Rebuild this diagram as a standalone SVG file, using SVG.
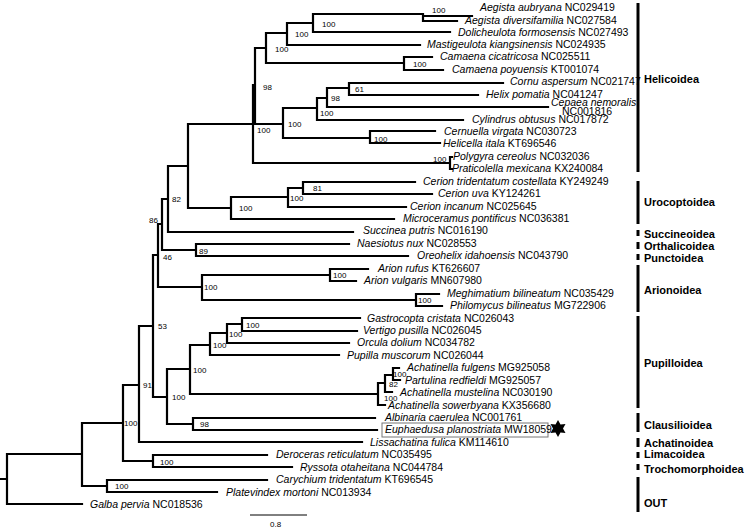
<svg xmlns="http://www.w3.org/2000/svg" width="745" height="529" viewBox="0 0 745 529">
<style>
.br{fill:none;stroke:#000;stroke-width:2.2;stroke-linecap:square}
.bar{stroke:#000;stroke-width:3}
.lf{font-family:"Liberation Sans",Arial,sans-serif;font-size:10.5px;fill:#000}
.sp{font-style:italic}
.bs{font-family:"Liberation Sans",Arial,sans-serif;font-size:8px;fill:#000}
.cl{font-family:"Liberation Sans",Arial,sans-serif;font-size:11px;font-weight:bold;fill:#000}
</style>
<rect width="745" height="529" fill="#fff"/>
<g id="connectors">
<path class="br" d="M0,479H7M7,454V504M7,504H82M7,454H82
M82,423V486M82,486H107M107,480V492M107,480H267M107,492H217
M82,423H123M123,385V461M123,461H153M153,455V467M153,455H267M153,467H292
M123,385H139M139,326V442M139,442H362
M139,326H153M153,255V397
M153,397H167M167,369V424M167,424H193M193,418V430M193,418H375M193,430H377
M167,369H190M190,345V394
M190,394H378M378,383V405M378,405H385M378,383H385M385,375V392M385,392H392M385,375H393M393,368V380M393,368H399M393,380H400
M190,345H210M210,333V355M210,355H339M210,333H227M227,324V343M227,343H349M227,324H242M242,318V331M242,318H360M242,331H357
M153,255H158M158,224V287
M158,287H202M202,275V300M202,275H330M330,269V281M330,269H368M330,281H356M202,300H416M416,294V306M416,294H439M416,306H442
M158,224H162M162,199V250M162,250H196M196,244V256M196,244H349M196,256H408
M162,199H168M168,166V232M168,232H353
M168,166H188M188,124V208
M188,208H231M231,197V219M231,219H394M231,197H288M288,188V207M288,207H406M288,188H303M303,182V194M303,182H415M303,194H432
M188,124H253M253,85V163M253,163H450M450,157V169M450,157H452M450,169H452
M253,85H255M255,48V124
M255,124H283M283,108V138M283,138H370M370,131V143M370,131H435M370,143H440
M283,108H317M317,98V120M317,120H463M317,98H327M327,88V107M327,107H548M327,88H349M349,83V95M349,83H503M349,95H478
M255,48H266M266,33V63M266,63H404M404,57V70M404,57H432M404,70H443
M266,33H287M287,23V45M287,45H420M287,23H313M313,14V32M313,32H450M313,14H423M423,14V21M423,16H472M423,21H457"/>
</g>
<g id="support">
<text class="bs" x="432" y="13">100</text>
<text class="bs" x="322" y="27">100</text>
<text class="bs" x="295" y="37">100</text>
<text class="bs" x="275" y="52">100</text>
<text class="bs" x="413" y="67">100</text>
<text class="bs" x="263" y="90">98</text>
<text class="bs" x="355" y="92">61</text>
<text class="bs" x="331" y="101">98</text>
<text class="bs" x="320" y="116">100</text>
<text class="bs" x="288" y="127">100</text>
<text class="bs" x="257" y="133">100</text>
<text class="bs" x="374" y="142">100</text>
<text class="bs" x="433" y="162">100</text>
<text class="bs" x="313" y="191">81</text>
<text class="bs" x="290" y="201">100</text>
<text class="bs" x="239" y="211">100</text>
<text class="bs" x="172" y="202">82</text>
<text class="bs" x="149" y="223">86</text>
<text class="bs" x="199" y="254">89</text>
<text class="bs" x="163" y="260">46</text>
<text class="bs" x="204" y="290">100</text>
<text class="bs" x="333" y="278">100</text>
<text class="bs" x="418" y="303">100</text>
<text class="bs" x="158" y="329">53</text>
<text class="bs" x="246" y="328">100</text>
<text class="bs" x="229" y="337">100</text>
<text class="bs" x="213" y="348">100</text>
<text class="bs" x="193" y="373">100</text>
<text class="bs" x="172" y="400">100</text>
<text class="bs" x="200" y="427">98</text>
<text class="bs" x="143" y="388">91</text>
<text class="bs" x="124" y="426">100</text>
<text class="bs" x="160" y="465">100</text>
<text class="bs" x="115" y="489">100</text>
<text class="bs" x="393" y="377">100</text>
<text class="bs" x="389" y="387">82</text>
<text class="bs" x="384" y="401">100</text>
</g>
<g id="taxa">
<g id="t0"><text class="lf" x="480" y="10.7"><tspan class="sp">Aegista aubryana</tspan> NC029419</text></g>
<g id="t1"><text class="lf" x="465" y="23.5"><tspan class="sp">Aegista diversifamilia</tspan> NC027584</text></g>
<g id="t2"><text class="lf" x="458" y="35.6"><tspan class="sp">Dolicheulota formosensis</tspan> NC027493</text></g>
<g id="t3"><text class="lf" x="427" y="48"><tspan class="sp">Mastigeulota kiangsinensis</tspan> NC024935</text></g>
<g id="t4"><text class="lf" x="440" y="60.4"><tspan class="sp">Camaena cicatricosa</tspan> NC025511</text></g>
<g id="t5"><text class="lf" x="452" y="72.9"><tspan class="sp">Camaena poyuensis</tspan> KT001074</text></g>
<g id="t6"><text class="lf" x="510" y="85.3"><tspan class="sp">Cornu aspersum</tspan> NC021747</text></g>
<g id="t7"><text class="lf" x="486" y="97.7"><tspan class="sp">Helix pomatia</tspan> NC041247</text></g>
<g id="t8"><text class="lf" x="551" y="105.5" font-size="10"><tspan class="sp">Cepaea nemoralis</tspan></text><text class="lf" x="562" y="114.5" font-size="10">NC001816</text></g>
<g id="t9"><text class="lf" x="472" y="122.6"><tspan class="sp">Cylindrus obtusus</tspan> NC017872</text></g>
<g id="t10"><text class="lf" x="444" y="135"><tspan class="sp">Cernuella virgata</tspan> NC030723</text></g>
<g id="t11"><text class="lf" x="443" y="147.4"><tspan class="sp">Helicella itala</tspan> KT696546</text></g>
<g id="t12"><text class="lf" x="453" y="159.9"><tspan class="sp">Polygyra cereolus</tspan> NC032036</text></g>
<g id="t13"><text class="lf" x="452" y="172.3"><tspan class="sp">Praticolella mexicana</tspan> KX240084</text></g>
<g id="t14"><text class="lf" x="423" y="184.7"><tspan class="sp">Cerion tridentatum costellata</tspan> KY249249</text></g>
<g id="t15"><text class="lf" x="438" y="197.2"><tspan class="sp">Cerion uva</tspan> KY124261</text></g>
<g id="t16"><text class="lf" x="410" y="209.6"><tspan class="sp">Cerion incanum</tspan> NC025645</text></g>
<g id="t17"><text class="lf" x="403" y="222"><tspan class="sp">Microceramus pontificus</tspan> NC036381</text></g>
<g id="t18"><text class="lf" x="363" y="234.4"><tspan class="sp">Succinea putris</tspan> NC016190</text></g>
<g id="t19"><text class="lf" x="357" y="246.9"><tspan class="sp">Naesiotus nux</tspan> NC028553</text></g>
<g id="t20"><text class="lf" x="417" y="259.3"><tspan class="sp">Oreohelix idahoensis</tspan> NC043790</text></g>
<g id="t21"><text class="lf" x="378" y="271.7"><tspan class="sp">Arion rufus</tspan> KT626607</text></g>
<g id="t22"><text class="lf" x="364" y="284.2"><tspan class="sp">Arion vulgaris</tspan> MN607980</text></g>
<g id="t23"><text class="lf" x="447" y="296.6"><tspan class="sp">Meghimatium bilineatum</tspan> NC035429</text></g>
<g id="t24"><text class="lf" x="450" y="309"><tspan class="sp">Philomycus bilineatus</tspan> MG722906</text></g>
<g id="t25"><text class="lf" x="367" y="321.5"><tspan class="sp">Gastrocopta cristata</tspan> NC026043</text></g>
<g id="t26"><text class="lf" x="363" y="333.9"><tspan class="sp">Vertigo pusilla</tspan> NC026045</text></g>
<g id="t27"><text class="lf" x="357" y="346.3"><tspan class="sp">Orcula dolium</tspan> NC034782</text></g>
<g id="t28"><text class="lf" x="347" y="358.7"><tspan class="sp">Pupilla muscorum</tspan> NC026044</text></g>
<g id="t29"><text class="lf" x="407" y="371.2"><tspan class="sp">Achatinella fulgens</tspan> MG925058</text></g>
<g id="t30"><text class="lf" x="405" y="383.6"><tspan class="sp">Partulina redfieldi</tspan> MG925057</text></g>
<g id="t31"><text class="lf" x="400" y="396"><tspan class="sp">Achatinella mustelina</tspan> NC030190</text></g>
<g id="t32"><text class="lf" x="388" y="408.5"><tspan class="sp">Achatinella sowerbyana</tspan> KX356680</text></g>
<g id="t33"><text class="lf" x="385" y="420.9"><tspan class="sp">Albinaria caerulea</tspan> NC001761</text></g>
<g id="t34"><rect x="382" y="423" width="166" height="14" fill="none" stroke="#777" stroke-width="1"/><text class="lf" x="385" y="433.3"><tspan class="sp">Euphaedusa planostriata</tspan> MW18059</text><polygon points="558,420 560.5,424.5 565.5,424 563,428.5 565.5,433 560.5,432.5 558,437 555.5,432.5 550.5,433 553,428.5 550.5,424 555.5,424.5" fill="#000"/></g>
<g id="t35"><text class="lf" x="370" y="445.7"><tspan class="sp">Lissachatina fulica</tspan> KM114610</text></g>
<g id="t36"><text class="lf" x="276" y="458.2"><tspan class="sp">Deroceras reticulatum</tspan> NC035495</text></g>
<g id="t37"><text class="lf" x="300" y="470.6"><tspan class="sp">Ryssota otaheitana</tspan> NC044784</text></g>
<g id="t38"><text class="lf" x="276" y="483"><tspan class="sp">Carychium tridentatum</tspan> KT696545</text></g>
<g id="t39"><text class="lf" x="226" y="495.5"><tspan class="sp">Platevindex mortoni</tspan> NC013934</text></g>
<g id="t40"><text class="lf" x="90" y="507.9"><tspan class="sp">Galba pervia</tspan> NC018536</text></g>
</g>
<g id="clades">
<g id="c1"><line class="bar" x1="638" y1="3" x2="638" y2="172"/><text class="cl" x="644" y="83">Helicoidea</text></g>
<g id="c2"><line class="bar" x1="638" y1="181" x2="638" y2="224"/><text class="cl" x="644" y="206">Urocoptoidea</text></g>
<g id="c3"><line class="bar" x1="638" y1="230" x2="638" y2="236"/><text class="cl" x="644" y="238">Succineoidea</text></g>
<g id="c4"><line class="bar" x1="638" y1="242" x2="638" y2="249"/><text class="cl" x="644" y="250">Orthalicoidea</text></g>
<g id="c5"><line class="bar" x1="638" y1="254" x2="638" y2="260"/><text class="cl" x="644" y="262">Punctoidea</text></g>
<g id="c6"><line class="bar" x1="638" y1="265" x2="638" y2="312"/><text class="cl" x="644" y="294">Arionoidea</text></g>
<g id="c7"><line class="bar" x1="638" y1="316" x2="638" y2="408"/><text class="cl" x="644" y="367">Pupilloidea</text></g>
<g id="c8"><line class="bar" x1="638" y1="413" x2="638" y2="432"/><text class="cl" x="644" y="429">Clausilioidea</text></g>
<g id="c9"><line class="bar" x1="638" y1="438" x2="638" y2="447"/><text class="cl" x="644" y="447">Achatinoidea</text></g>
<g id="c10"><line class="bar" x1="638" y1="452" x2="638" y2="458"/><text class="cl" x="644" y="458">Limacoidea</text></g>
<g id="c11"><line class="bar" x1="638" y1="464" x2="638" y2="470"/><text class="cl" x="644" y="473">Trochomorphoidea</text></g>
<g id="c12"><line class="bar" x1="638" y1="477" x2="638" y2="512"/><text class="cl" x="644" y="507">OUT</text></g>
</g>
<g id="scale">
<line x1="250" y1="515" x2="307" y2="515" stroke="#000" stroke-width="1"/>
<text class="bs" x="270" y="527" font-size="7">0.8</text>
</g>
</svg>
